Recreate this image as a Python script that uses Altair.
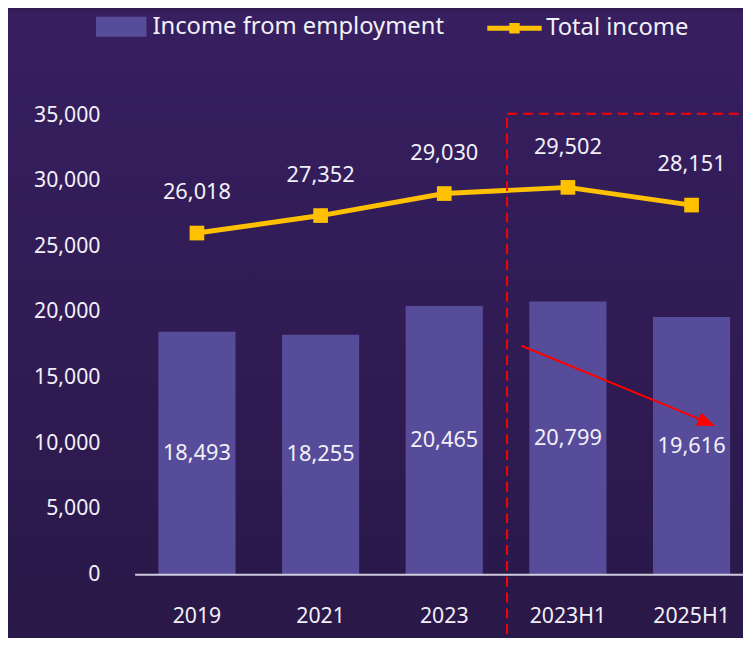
import altair as alt
import pandas as pd

# ---- data ----
categories = ["2019", "2021", "2023", "2023H1", "2025H1"]
employment = [18493, 18255, 20465, 20799, 19616]
total_income = [26018, 27352, 29030, 29502, 28151]
y_ticks = [0, 5000, 10000, 15000, 20000, 25000, 30000, 35000]
bar_name = "Income from employment"
line_name = "Total income"

df = pd.DataFrame({
    "period": categories,
    "employment": employment,
    "total": total_income,
    "bar_series": [bar_name] * len(categories),
    "line_series": [line_name] * len(categories),
})

W, H = 615, 464
PAD = {"left": 128, "top": 105, "right": 0, "bottom": 61}
FONT = "Noto Sans"
WHITE = "#f2f0f7"
BAR = "#574c9a"
GOLD = "#FFC000"
RED = "#ff0000"

x_scale = alt.Scale(range=[0, 626], paddingInner=0.376, paddingOuter=0.192)
x_enc = alt.X(
    "period:N",
    sort=categories,
    scale=x_scale,
    axis=alt.Axis(
        title=None, labelAngle=0, ticks=False, labelFontSize=21.5, labelColor=WHITE,
        labelFont=FONT, labelPadding=43, labelBaseline="middle",
        domainColor="#cfcbdc", domainWidth=2, grid=False, zindex=1,
    ),
)
y_scale = alt.Scale(domain=[0, 35000], nice=False)
y_axis = alt.Axis(
    title=None, values=y_ticks, format=",d", ticks=False, domain=False, grid=False,
    labelFontSize=21.5, labelColor=WHITE, labelFont=FONT, labelPadding=35, zindex=1,
)

base = alt.Chart(df)

# background gradient
bg = alt.Chart(alt.Data(values=[{}])).mark_rect(
    color=alt.LinearGradient(
        gradient="linear",
        stops=[alt.GradientStop(color="#371f60", offset=0),
               alt.GradientStop(color="#2a1848", offset=1)],
        x1=0, x2=0, y1=0, y2=1,
    )
).encode(
    x=alt.value(-PAD["left"]), x2=alt.value(W + 10),
    y=alt.value(-PAD["top"]), y2=alt.value(H + PAD["bottom"] + 10),
)

bars = base.mark_bar().encode(
    x=x_enc,
    y=alt.Y("employment:Q", scale=y_scale, axis=y_axis),
    fill=alt.Fill(
        "bar_series:N",
        scale=alt.Scale(domain=[bar_name], range=[BAR]),
        legend=alt.Legend(
            title=None, orient="none", legendX=-39, legendY=-115,
            symbolType="M-1,-0.4H1V0.4H-1Z", symbolSize=2601, symbolStrokeWidth=0,
            labelFontSize=24, labelColor=WHITE, labelFont=FONT, labelOffset=6, padding=0,
            labelLimit=500, zindex=2,
        ),
    ),
)

bar_labels = base.transform_calculate(mid="datum.employment / 2").mark_text(
    color=WHITE, fontSize=22, font=FONT
).encode(
    x=alt.X("period:N", sort=categories, scale=x_scale),
    y=alt.Y("mid:Q", scale=y_scale),
    text=alt.Text("employment:Q", format=","),
)

line = base.mark_line(strokeWidth=5).encode(
    x=alt.X("period:N", sort=categories, scale=x_scale),
    y=alt.Y("total:Q", scale=y_scale),
    stroke=alt.Stroke(
        "line_series:N",
        scale=alt.Scale(domain=[line_name], range=[GOLD]),
        legend=alt.Legend(
            title=None, orient="none", legendX=354, legendY=-118,
            symbolType="M-1,0H1M-0.1,-0.1H0.1V0.1H-0.1Z", symbolSize=3025,
            symbolStrokeWidth=5, symbolFillColor=GOLD,
            labelFontSize=24, labelColor=WHITE, labelFont=FONT, labelOffset=2, padding=0,
            labelLimit=500, zindex=2,
        ),
    ),
)

points = base.mark_point(shape="square", filled=True, size=220, color=GOLD, opacity=1).encode(
    x=alt.X("period:N", sort=categories, scale=x_scale),
    y=alt.Y("total:Q", scale=y_scale),
)

line_labels = base.mark_text(color=WHITE, fontSize=22, font=FONT, dy=-41).encode(
    x=alt.X("period:N", sort=categories, scale=x_scale),
    y=alt.Y("total:Q", scale=y_scale),
    text=alt.Text("total:Q", format=","),
)

# highlight box and arrow (annotations)
box = alt.Chart(alt.Data(values=[{}])).mark_rect(
    fill="transparent", stroke=RED, strokeWidth=2, strokeDash=[10, 6]
).encode(
    x=alt.value(376.5), x2=alt.value(W + 30),
    y=alt.value(-1.5), y2=alt.value(H + 73),
)

arrow_line = alt.Chart(alt.Data(values=[{}])).mark_rule(color=RED, strokeWidth=2).encode(
    x=alt.value(391), y=alt.value(233), x2=alt.value(578), y2=alt.value(310),
)
arrow_head = alt.Chart(alt.Data(values=[{}])).mark_point(
    shape="M1,0L-1,-0.8L-1,0.8Z", filled=True, color=RED, size=324, angle=22.5, opacity=1
).encode(x=alt.value(578.4), y=alt.value(310.6))

chart = alt.layer(
    bg, bars, bar_labels, line, points, line_labels, box, arrow_line, arrow_head
).properties(
    width=W, height=H,
    autosize=alt.AutoSizeParams(type="none"),
    padding=PAD,
    background="#301b54",
).configure(font=FONT).configure_view(stroke=None)

chart.save("out.html", embed_options={"renderer": "svg", "actions": False})
